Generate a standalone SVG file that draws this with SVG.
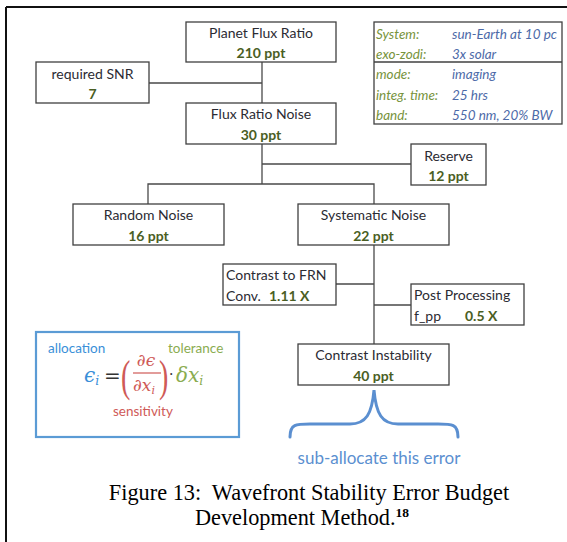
<svg xmlns="http://www.w3.org/2000/svg" width="567" height="542" viewBox="0 0 567 542">
  <style>
    .box { fill: #ffffff; stroke: #404040; stroke-width: 1.3; }
    .wire { fill: none; stroke: #4a4a4a; stroke-width: 1.3; }
    .lbl { font-family: Lato, "Liberation Sans", sans-serif; font-size: 14px; fill: #2b2b33; }
    .val { font-family: Lato, "Liberation Sans", sans-serif; font-size: 14px; font-weight: bold; fill: #4a5e23; }
    .c { text-anchor: middle; }
    .tk { font-family: Lato, "Liberation Sans", sans-serif; font-size: 13.5px; font-style: italic; fill: #77933c; }
    .tv { font-family: Lato, "Liberation Sans", sans-serif; font-size: 13.5px; font-style: italic; fill: #4d6aa8; }
    .note { font-family: Lato, "Liberation Sans", sans-serif; font-size: 13.5px; }
    .math { font-family: "DejaVu Serif", "Liberation Serif", serif; font-style: italic; }
    .paren { font-family: "Liberation Serif", serif; font-size: 28px; fill: #cf5a57; }
    .cap { font-family: "Liberation Serif", "Times New Roman", serif; font-size: 22.3px; fill: #000000; text-anchor: middle; }
  </style>

  <!-- page frame: top rule and left rule -->
  <path d="M6 7 H567 M6 7 V542" fill="none" stroke="#111111" stroke-width="2"/>

  <!-- tree connectors -->
  <g id="connectors">
    <path class="wire" d="M262 62 V103 M149 83 H262"/>
    <path class="wire" d="M262 144 V184 M262 164 H411"/>
    <path class="wire" d="M148 204 V184 H374 V204"/>
    <path class="wire" d="M374 245 V344 M336 284 H374 M374 305 H411"/>
  </g>

  <g id="planet-flux-ratio">
    <rect class="box" x="186" y="22" width="150" height="40"/>
    <text class="lbl c" x="261" y="38">Planet Flux Ratio</text>
    <text class="val c" x="261" y="58">210 ppt</text>
  </g>

  <g id="required-snr">
    <rect class="box" x="36" y="62" width="113" height="41"/>
    <text class="lbl c" x="92.5" y="79">required SNR</text>
    <text class="val c" x="92.5" y="99">7</text>
  </g>

  <g id="flux-ratio-noise">
    <rect class="box" x="186" y="103" width="150" height="41"/>
    <text class="lbl c" x="261" y="119">Flux Ratio Noise</text>
    <text class="val c" x="261" y="140">30 ppt</text>
  </g>

  <g id="reserve">
    <rect class="box" x="411" y="144" width="75" height="41"/>
    <text class="lbl c" x="448.5" y="161">Reserve</text>
    <text class="val c" x="448.5" y="181">12 ppt</text>
  </g>

  <g id="random-noise">
    <rect class="box" x="73" y="204" width="151" height="41"/>
    <text class="lbl c" x="148.5" y="220">Random Noise</text>
    <text class="val c" x="148.5" y="241">16 ppt</text>
  </g>

  <g id="systematic-noise">
    <rect class="box" x="298" y="204" width="151" height="41"/>
    <text class="lbl c" x="373.5" y="220">Systematic Noise</text>
    <text class="val c" x="373.5" y="241">22 ppt</text>
  </g>

  <g id="contrast-to-frn">
    <rect class="box" x="223" y="264" width="113" height="41"/>
    <text class="lbl" x="226" y="280">Contrast to FRN</text>
    <text class="lbl" x="226" y="301">Conv.</text>
    <text class="val" x="269" y="301">1.11 X</text>
  </g>

  <g id="post-processing">
    <rect class="box" x="411" y="284" width="113" height="41"/>
    <text class="lbl" x="414" y="300">Post Processing</text>
    <text class="lbl" x="414" y="321">f_pp</text>
    <text class="val" x="465" y="321">0.5 X</text>
  </g>

  <g id="contrast-instability">
    <rect class="box" x="298" y="344" width="151" height="41"/>
    <text class="lbl c" x="373.5" y="360">Contrast Instability</text>
    <text class="val c" x="373.5" y="381">40 ppt</text>
  </g>

  <!-- observation parameters table -->
  <g id="parameters">
    <rect class="box" x="374" y="22" width="188" height="102"/>
    <line x1="374" y1="62" x2="562" y2="62" stroke="#404040" stroke-width="1.3"/>
    <text class="tk" x="376" y="39">System:</text>
    <text class="tv" x="452" y="39">sun-Earth at 10 pc</text>
    <text class="tk" x="376" y="59">exo-zodi:</text>
    <text class="tv" x="452" y="59">3x solar</text>
    <text class="tk" x="376" y="79">mode:</text>
    <text class="tv" x="452" y="79">imaging</text>
    <text class="tk" x="376" y="100">integ. time:</text>
    <text class="tv" x="452" y="100">25 hrs</text>
    <text class="tk" x="376" y="120">band:</text>
    <text class="tv" x="452" y="120">550 nm, 20% BW</text>
  </g>

  <!-- allocation equation legend -->
  <g id="allocation-legend">
    <rect x="36" y="332" width="203" height="105" fill="#ffffff" stroke="#5b9bd5" stroke-width="2.2"/>
    <text class="note" x="48" y="353" fill="#3a8fd8">allocation</text>
    <text class="note" x="168" y="353" fill="#8aac50">tolerance</text>
    <text class="note" x="113" y="416" fill="#cf5a57">sensitivity</text>
    <text class="math" x="84" y="382" font-size="20" fill="#3a8fd8">ϵ<tspan font-size="12.5" dy="3">i</tspan></text>
    <text x="104" y="383" font-family="'DejaVu Serif', serif" font-size="20" fill="#333333">=</text>
    <text class="paren" transform="translate(121 391) scale(1 1.55)">(</text>
    <text class="paren" transform="translate(159 391) scale(1 1.55)">)</text>
    <text class="math" x="146" y="366" font-size="17" fill="#cf5a57" text-anchor="middle">∂ϵ</text>
    <line x1="133" y1="373" x2="161" y2="373" stroke="#cf5a57" stroke-width="1.2"/>
    <text class="math" x="144" y="391" font-size="17" fill="#cf5a57" text-anchor="middle">∂x<tspan font-size="11" dy="3">i</tspan></text>
    <text x="169" y="379" font-family="'DejaVu Serif', serif" font-size="14" fill="#333333">·</text>
    <text class="math" x="176" y="382" font-size="20" fill="#8aac50">δx<tspan font-size="12.5" dy="3">i</tspan></text>
  </g>

  <!-- brace under the contrast instability term -->
  <g id="sub-allocation">
    <path d="M290 437 C290 424 296 424 310 424 H350 C366 424 372 414 374 390 C376 414 382 424 398 424 H438 C452 424 458 424 458 437" fill="none" stroke="#5b8fd0" stroke-width="3" stroke-linecap="round"/>
    <text x="379" y="464" font-family="Lato, 'Liberation Sans', sans-serif" font-size="17" fill="#5b8fd0" text-anchor="middle">sub-allocate this error</text>
  </g>

  <!-- caption -->
  <text class="cap" x="309" y="500" xml:space="preserve">Figure 13:  Wavefront Stability Error Budget</text>
  <text class="cap" x="302" y="525">Development Method.<tspan font-size="13.5" font-weight="bold" dy="-8">18</tspan></text>
</svg>
